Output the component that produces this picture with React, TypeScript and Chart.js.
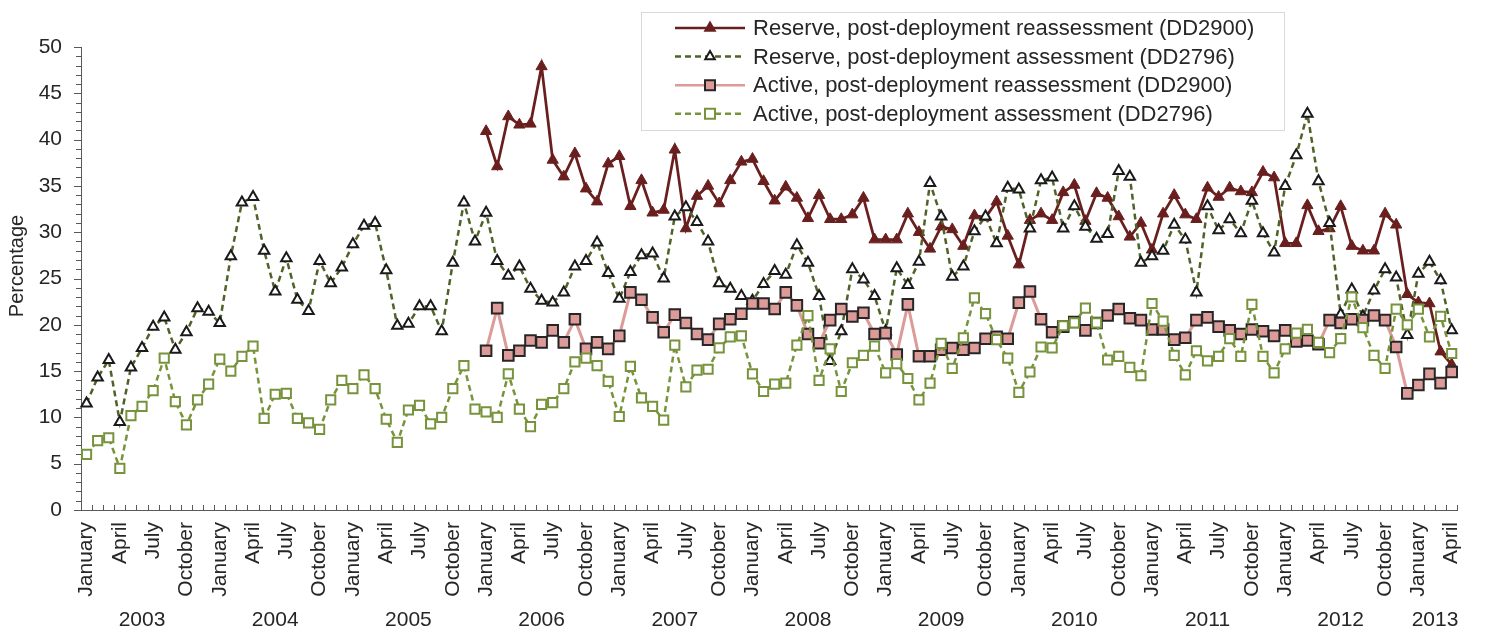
import { useEffect, useRef } from 'react';
import { Chart, registerables } from 'chart.js';

Chart.register(...registerables);

const FONT = '"Liberation Sans", Arial, sans-serif';
const TEXT = '#262626';
const AXIS = '#595959';

const years = [2003, 2004, 2005, 2006, 2007, 2008, 2009, 2010, 2011, 2012, 2013];
const monthNames = ['January', 'February', 'March', 'April', 'May', 'June', 'July', 'August', 'September', 'October', 'November', 'December'];
const tickMonths = ['January', 'April', 'July', 'October'];
const monthsIn2013 = 4;

// one category per month, Jan 2003 .. Apr 2013
const categories: string[] = [];
years.forEach((yr) => {
  const n = yr === 2013 ? monthsIn2013 : 12;
  for (let m = 0; m < n; m++) categories.push(`${monthNames[m]} ${yr}`);
});

const pre2006 = Array(36).fill(null);

const reserveReassessment = [
  ...pre2006,
  40.9, 37.1, 42.5, 41.6, 41.7, 47.9, 37.8, 36.0, 38.5, 34.7, 33.3, 37.4,
  38.2, 32.8, 35.6, 32.1, 32.4, 38.9, 30.4, 33.9, 35.0, 33.1, 35.6, 37.6,
  37.9, 35.5, 33.4, 34.9, 33.7, 31.5, 34.0, 31.4, 31.4, 31.9, 33.7, 29.2,
  29.2, 29.2, 32.0, 30.0, 28.2, 30.6, 30.3, 28.5, 31.8, 31.6, 33.3, 29.6,
  26.5, 31.3, 32.0, 31.3, 34.3, 35.1, 31.2, 34.2, 33.7, 31.7, 29.5, 31.0,
  28.1, 32.0, 34.0, 31.9, 31.4, 34.8, 33.8, 34.8, 34.4, 34.3, 36.5, 35.9,
  28.8, 28.8, 32.9, 30.1, 30.4, 32.8, 28.5, 28.0, 28.0, 32.0, 30.8, 23.3,
  22.4, 22.3, 17.1, 15.7,
];

const reserveAssessment = [
  11.5, 14.3, 16.2, 9.5, 15.4, 17.5, 19.8, 20.8, 17.3, 19.2, 21.8, 21.4,
  20.2, 27.4, 33.2, 33.8, 28.0, 23.6, 27.2, 22.7, 21.5, 26.9, 24.5, 26.2,
  28.7, 30.7, 31.0, 25.9, 19.9, 20.1, 22.0, 22.0, 19.3, 26.7, 33.2, 29.0,
  32.1, 26.9, 25.3, 26.3, 23.9, 22.6, 22.4, 23.5, 26.3, 26.9, 28.9, 25.6,
  22.8, 25.7, 27.5, 27.7, 25.0, 31.7, 32.7, 31.1, 29.0, 24.5, 23.9, 23.1,
  22.6, 24.4, 25.8, 25.4, 28.6, 26.7, 23.1, 16.1, 19.3, 26.0, 24.9, 23.1,
  19.3, 26.1, 24.3, 26.8, 35.3, 31.7, 25.2, 26.3, 30.1, 31.7, 28.8, 34.8,
  34.6, 30.4, 35.6, 35.9, 30.4, 32.8, 30.6, 29.3, 29.8, 36.6, 36.0, 26.7,
  27.4, 28.0, 30.8, 29.2, 23.5, 32.8, 30.2, 31.4, 29.9, 33.4, 29.9, 27.8,
  35.0, 38.3, 42.8, 35.5, 31.0, 21.1, 23.8, 20.9, 23.7, 26.0, 25.1, 18.9,
  25.5, 26.8, 24.8, 19.4,
];

const activeReassessment = [
  ...pre2006,
  17.2, 21.8, 16.7, 17.2, 18.3, 18.1, 19.4, 18.1, 20.6, 17.4, 18.1, 17.4,
  18.8, 23.5, 22.7, 20.8, 19.2, 21.1, 20.2, 19.0, 18.4, 20.1, 20.6, 21.2,
  22.3, 22.3, 21.7, 23.5, 22.1, 19.0, 18.0, 20.5, 21.7, 20.9, 21.3, 19.0,
  19.1, 16.8, 22.2, 16.6, 16.6, 17.3, 17.5, 17.3, 17.5, 18.5, 18.7, 18.5,
  22.4, 23.6, 20.6, 19.2, 19.8, 20.3, 19.4, 20.2, 21.0, 21.7, 20.7, 20.5,
  19.5, 19.5, 18.4, 18.6, 20.5, 20.8, 19.8, 19.4, 19.0, 19.5, 19.3, 18.8,
  19.4, 18.2, 18.3, 17.9, 20.5, 20.2, 20.6, 20.5, 21.0, 20.5, 17.6, 12.6,
  13.5, 14.7, 13.7, 14.9,
];

const activeAssessment = [
  6.0, 7.5, 7.8, 4.5, 10.2, 11.2, 12.9, 16.4, 11.7, 9.2, 11.9, 13.6,
  16.3, 15.0, 16.6, 17.7, 9.9, 12.5, 12.6, 9.9, 9.4, 8.7, 11.9, 14.0,
  13.1, 14.6, 13.1, 9.8, 7.3, 10.8, 11.3, 9.3, 10.0, 13.1, 15.6, 10.9,
  10.6, 10.0, 14.7, 10.9, 9.0, 11.4, 11.6, 13.1, 16.0, 16.4, 15.6, 13.9,
  10.1, 15.5, 12.1, 11.2, 9.7, 17.8, 13.3, 15.1, 15.2, 17.5, 18.7, 18.8,
  14.7, 12.8, 13.6, 13.7, 17.8, 21.0, 14.0, 17.4, 12.8, 15.9, 16.7, 17.7,
  14.8, 15.8, 14.2, 11.9, 13.7, 18.0, 15.3, 18.6, 22.9, 21.2, 18.4, 16.4,
  12.7, 14.9, 17.6, 17.5, 19.9, 20.2, 21.8, 20.2, 16.2, 16.6, 15.4, 14.5,
  22.3, 20.4, 16.7, 14.6, 17.2, 16.1, 16.6, 18.5, 16.6, 22.2, 16.6, 14.8,
  17.4, 19.1, 19.5, 18.1, 17.0, 18.5, 23.0, 19.7, 16.7, 15.3, 21.7, 20.0,
  21.7, 18.7, 20.9, 16.9,
];

const legendItems = [
  { label: 'Reserve, post-deployment reassessment (DD2900)', line: '#6a1f1f', dash: [] as number[], shape: 'tri', fill: '#6a1f1f', stroke: '#6a1f1f' },
  { label: 'Reserve, post-deployment assessment (DD2796)', line: '#4f6228', dash: [6, 4], shape: 'tri', fill: '#ffffff', stroke: '#1a1a1a' },
  { label: 'Active, post-deployment reassessment (DD2900)', line: '#dc9a98', dash: [] as number[], shape: 'sq', fill: '#dc9a98', stroke: '#262626' },
  { label: 'Active, post-deployment assessment (DD2796)', line: '#77933c', dash: [6, 4], shape: 'sq', fill: '#ffffff', stroke: '#77933c' },
];

// inward month ticks, minor y ticks, axis title, year row and the boxed legend
const decorPlugin = {
  id: 'decor',
  afterDraw(chart: any) {
    const { ctx, scales } = chart;
    const x = scales.x;
    const y = scales.y;
    ctx.save();
    ctx.strokeStyle = AXIS;
    ctx.lineWidth = 1;
    ctx.beginPath();
    for (let i = 0; i <= categories.length; i++) {
      const px = Math.round(x.getPixelForValue(i - 0.5)) + 0.5;
      ctx.moveTo(px, y.bottom);
      ctx.lineTo(px, y.bottom - 5);
    }
    for (let v = 0; v <= 50; v++) {
      const py = Math.round(y.getPixelForValue(v)) + 0.5;
      const len = v % 5 === 0 ? 7 : 5;
      ctx.moveTo(x.left, py);
      ctx.lineTo(x.left - len, py);
    }
    ctx.stroke();

    ctx.fillStyle = TEXT;
    ctx.font = `20px ${FONT}`;
    ctx.textAlign = 'center';
    ctx.textBaseline = 'middle';
    ctx.save();
    ctx.translate(17, 266);
    ctx.rotate(-Math.PI / 2);
    ctx.fillText('Percentage', 0, 0);
    ctx.restore();

    ctx.font = `21px ${FONT}`;
    years.forEach((yr, k) => {
      const n = yr === 2013 ? monthsIn2013 : 12;
      const centre = k * 12 + Math.min(5, (n - 1) / 2);
      ctx.fillText(String(yr), x.getPixelForValue(centre), 620);
    });

    // legend box
    ctx.fillStyle = '#ffffff';
    ctx.fillRect(641, 12, 643, 118);
    ctx.strokeStyle = '#d9d9d9';
    ctx.strokeRect(641.5, 12.5, 643, 118);
    legendItems.forEach((it, k) => {
      const cy = 28 + k * 28.6;
      ctx.save();
      ctx.strokeStyle = it.line;
      ctx.lineWidth = 2.5;
      ctx.setLineDash(it.dash);
      ctx.beginPath();
      ctx.moveTo(675, cy);
      ctx.lineTo(745, cy);
      ctx.stroke();
      ctx.restore();
      ctx.save();
      ctx.fillStyle = it.fill;
      ctx.strokeStyle = it.stroke;
      ctx.lineWidth = 2;
      ctx.beginPath();
      if (it.shape === 'tri') {
        const r = 5.5;
        ctx.moveTo(710, cy - r);
        ctx.lineTo(710 + r * 0.866, cy + r * 0.5);
        ctx.lineTo(710 - r * 0.866, cy + r * 0.5);
        ctx.closePath();
      } else {
        ctx.rect(705, cy - 5, 10, 10);
      }
      ctx.fill();
      ctx.stroke();
      ctx.restore();
      ctx.fillStyle = TEXT;
      ctx.font = `22px ${FONT}`;
      ctx.textAlign = 'left';
      ctx.textBaseline = 'middle';
      ctx.fillText(it.label, 753, cy + 1);
    });
    ctx.restore();
  },
};

export default function App() {
  const canvasRef = useRef<HTMLCanvasElement | null>(null);

  useEffect(() => {
    if (!canvasRef.current) {
      return;
    }

    const chart = new Chart(canvasRef.current, {
      type: 'line',
      data: {
        labels: categories,
        datasets: [
          {
            label: legendItems[0].label,
            data: reserveReassessment,
            borderColor: '#6a1f1f',
            borderWidth: 2.75,
            pointStyle: 'triangle',
            pointRadius: 6.5,
            pointBackgroundColor: '#6a1f1f',
            pointBorderColor: '#6a1f1f',
            pointBorderWidth: 1,
            order: 4,
          },
          {
            label: legendItems[1].label,
            data: reserveAssessment,
            borderColor: '#4f6228',
            borderWidth: 2.5,
            borderDash: [6, 4],
            pointStyle: 'triangle',
            pointRadius: 6,
            pointBackgroundColor: '#ffffff',
            pointBorderColor: '#1a1a1a',
            pointBorderWidth: 2,
            order: 3,
          },
          {
            label: legendItems[2].label,
            data: activeReassessment,
            borderColor: '#dc9a98',
            borderWidth: 3,
            pointStyle: 'rect',
            pointRadius: 7.5,
            pointBackgroundColor: '#dc9a98',
            pointBorderColor: '#262626',
            pointBorderWidth: 2,
            order: 2,
          },
          {
            label: legendItems[3].label,
            data: activeAssessment,
            borderColor: '#77933c',
            borderWidth: 2.5,
            borderDash: [6, 4],
            pointStyle: 'rect',
            pointRadius: 6.5,
            pointBackgroundColor: '#ffffff',
            pointBorderColor: '#77933c',
            pointBorderWidth: 2,
            order: 1,
          },
        ],
      },
      options: {
        animation: false,
        responsive: true,
        maintainAspectRatio: false,
        layout: { padding: { top: 47, right: 31, left: 0, bottom: 0 } },
        plugins: { legend: { display: false }, tooltip: { enabled: false } },
        scales: {
          x: {
            offset: true,
            grid: { display: false, drawTicks: false },
            border: { display: true, color: AXIS, width: 1 },
            ticks: {
              autoSkip: false,
              minRotation: 90,
              maxRotation: 90,
              padding: 12,
              color: TEXT,
              font: { family: FONT, size: 21 },
              callback: (_v: any, i: number) => {
                const name = categories[i].split(' ')[0];
                return tickMonths.includes(name) ? name : '';
              },
            },
            afterFit: (s: any) => {
              s.height = 121;
            },
          },
          y: {
            min: 0,
            max: 50,
            grid: { display: false, drawTicks: false },
            border: { display: true, color: AXIS, width: 1 },
            ticks: { stepSize: 5, padding: 19, color: TEXT, font: { family: FONT, size: 21 } },
            afterFit: (s: any) => {
              s.width = 81;
            },
          },
        },
      },
      plugins: [decorPlugin],
    });

    return () => {
      chart.destroy();
    };
  }, []);

  return (
    <div style={{ position: 'fixed', left: 0, top: 0, width: 1489, height: 631, background: '#fff' }}>
      <canvas ref={canvasRef} />
    </div>
  );
}
